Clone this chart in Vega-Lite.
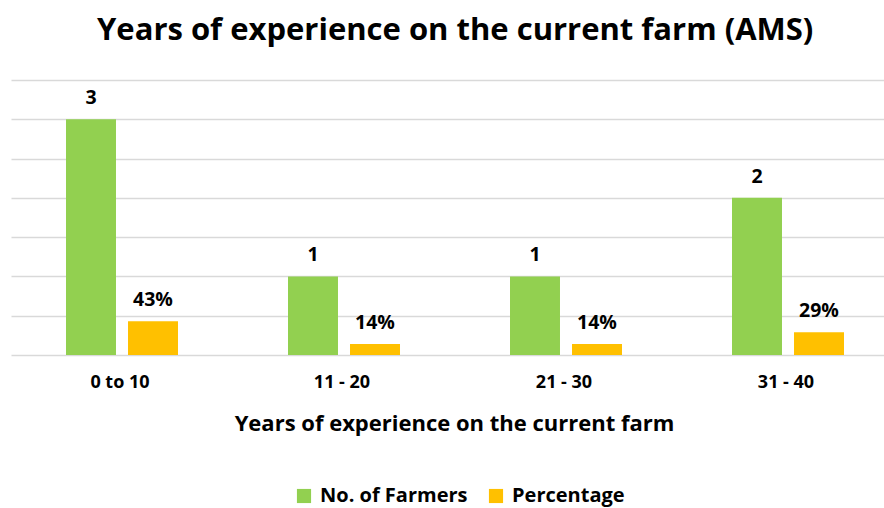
{
  "$schema": "https://vega.github.io/schema/vega-lite/v6.json",
  "autosize": {"type": "none"},
  "padding": {"left": 9, "top": 80, "right": 0, "bottom": 153},
  "width": 875,
  "height": 275,
  "background": "white",
  "title": {
    "text": "Years of experience on the current farm (AMS)",
    "font": "Open Sans",
    "fontSize": 31,
    "fontWeight": "bold",
    "color": "#000000",
    "anchor": "start",
    "dx": 88,
    "offset": 33
  },
  "config": {
    "view": {"stroke": null},
    "font": "Open Sans"
  },
  "data": {
    "values": [
      {"range": "0 to 10", "series": "No. of Farmers", "value": 3, "label": "3"},
      {"range": "0 to 10", "series": "Percentage", "value": 0.43, "label": "43%"},
      {"range": "11 - 20", "series": "No. of Farmers", "value": 1, "label": "1"},
      {"range": "11 - 20", "series": "Percentage", "value": 0.14, "label": "14%"},
      {"range": "21 - 30", "series": "No. of Farmers", "value": 1, "label": "1"},
      {"range": "21 - 30", "series": "Percentage", "value": 0.14, "label": "14%"},
      {"range": "31 - 40", "series": "No. of Farmers", "value": 2, "label": "2"},
      {"range": "31 - 40", "series": "Percentage", "value": 0.29, "label": "29%"}
    ]
  },
  "encoding": {
    "x": {
      "field": "range",
      "type": "nominal",
      "sort": null,
      "scale": {"paddingInner": 0, "paddingOuter": 0, "range": [2, 890]},
      "axis": {
        "title": "Years of experience on the current farm",
        "titleFont": "Open Sans",
        "titleFontSize": 22,
        "titleFontWeight": "bold",
        "titleColor": "#000000",
        "titlePadding": 22,
        "titleX": 445,
        "labelFont": "Open Sans",
        "labelFontSize": 18,
        "labelFontWeight": "bold",
        "labelColor": "#000000",
        "labelAngle": 0,
        "labelPadding": 18,
        "labelOffset": -2,
        "ticks": false,
        "domain": true,
        "domainColor": "#d9d9d9",
        "domainWidth": 1.5,
        "grid": false
      }
    },
    "xOffset": {
      "field": "series",
      "type": "nominal",
      "scale": {"paddingInner": 0.194, "paddingOuter": 0.887}
    },
    "y": {
      "field": "value",
      "type": "quantitative",
      "scale": {"domain": [0, 3.5], "nice": false},
      "axis": {
        "title": null,
        "labels": false,
        "ticks": false,
        "domain": false,
        "values": [0.5, 1, 1.5, 2, 2.5, 3, 3.5],
        "grid": true,
        "gridColor": "#d9d9d9",
        "gridWidth": 1.5
      }
    }
  },
  "layer": [
    {
      "mark": {"type": "bar"},
      "encoding": {
        "color": {
          "field": "series",
          "type": "nominal",
          "scale": {"domain": ["No. of Farmers", "Percentage"], "range": ["#92D050", "#FFC000"]},
          "legend": {
            "title": null,
            "orient": "none",
            "legendX": 285,
            "legendY": 406,
            "direction": "horizontal",
            "symbolType": "square",
            "symbolSize": 200,
            "symbolStrokeWidth": 0,
            "labelFont": "Open Sans",
            "labelFontSize": 20,
            "labelFontWeight": "bold",
            "labelColor": "#000000",
            "labelOffset": 6,
            "columnPadding": 18
          }
        }
      }
    },
    {
      "mark": {"type": "text", "dy": -21, "font": "Open Sans", "fontSize": 19.5, "fontWeight": "bold", "color": "#000000"},
      "encoding": {
        "text": {"field": "label"}
      }
    }
  ]
}
